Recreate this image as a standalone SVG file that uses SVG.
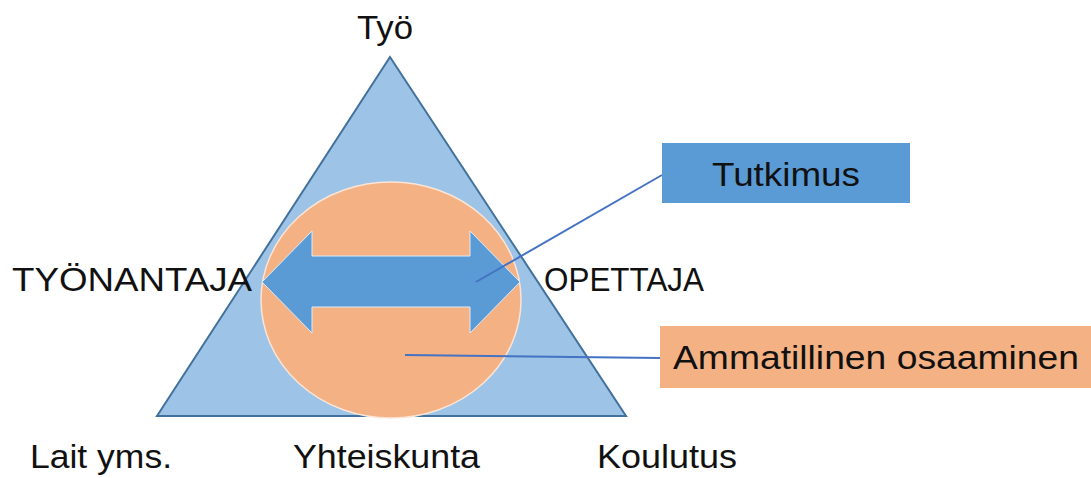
<svg xmlns="http://www.w3.org/2000/svg" width="1091" height="478" viewBox="0 0 1091 478">
<style>
text{font-family:"Liberation Sans",Arial,sans-serif;font-size:34px;fill:#111}
.conn{stroke:#4472C4;stroke-width:2;fill:none}
</style>
<rect width="1091" height="478" fill="#fff"/>
<g id="triangle">
<polygon points="390,57 157,416 626,416" fill="#9DC3E6" stroke="#41719C" stroke-width="2" stroke-linejoin="miter"/>
</g>
<g id="circle">
<ellipse cx="391" cy="300" rx="130" ry="118" fill="#F4B183" stroke="#FBE5D6" stroke-width="1.5"/>
</g>
<g id="arrow">
<polygon points="262,282 312,231 312,256 470,256 470,231 520,282 470,333 470,307 312,307 312,333" fill="#5B9BD5" stroke="#DEEBF7" stroke-width="1"/>
</g>
<g id="connectors">
<line class="conn" x1="662" y1="175" x2="476" y2="282"/>
<line class="conn" x1="405" y1="355" x2="660" y2="358"/>
</g>
<g id="tutkimus">
<rect x="662" y="143" width="248" height="60" fill="#5B9BD5"/>
<text x="712" y="186" textLength="148" lengthAdjust="spacingAndGlyphs">Tutkimus</text>
</g>
<g id="ammatillinen">
<rect x="660" y="326" width="431" height="62" fill="#F4B183"/>
<text x="673" y="369" textLength="406" lengthAdjust="spacingAndGlyphs">Ammatillinen osaaminen</text>
</g>
<g id="labels">
<text x="357" y="39" textLength="56" lengthAdjust="spacingAndGlyphs">Työ</text>
<text x="12" y="291" textLength="240" lengthAdjust="spacingAndGlyphs">TYÖNANTAJA</text>
<text x="544" y="291" textLength="160" lengthAdjust="spacingAndGlyphs">OPETTAJA</text>
<text x="30" y="468" textLength="142" lengthAdjust="spacingAndGlyphs">Lait yms.</text>
<text x="293" y="468" textLength="187" lengthAdjust="spacingAndGlyphs">Yhteiskunta</text>
<text x="597" y="468" textLength="140" lengthAdjust="spacingAndGlyphs">Koulutus</text>
</g>
</svg>
